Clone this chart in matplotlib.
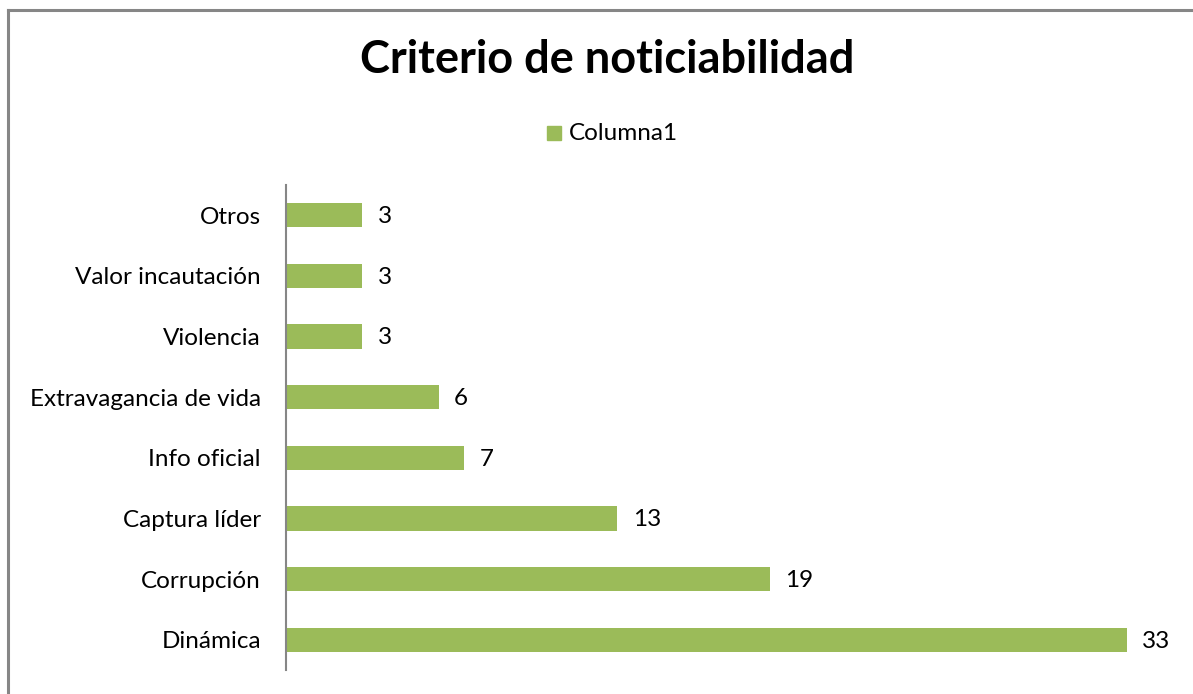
import matplotlib.pyplot as plt
from matplotlib.lines import Line2D

categories = ['Dinámica', 'Corrupción', 'Captura líder', 'Info oficial',
              'Extravagancia de vida', 'Violencia', 'Valor incautación', 'Otros']
values = [33, 19, 13, 7, 6, 3, 3, 3]

bar_color = '#9BBB59'
plt.rcParams['font.family'] = ['Lato', 'DejaVu Sans']

fig = plt.figure(figsize=(11.93, 6.94), dpi=100)
W, H = 1193, 694

# frame of the chart area (top and left edges visible)
fig.add_artist(Line2D([8 / W, 8 / W], [0, 1 - 10 / H], transform=fig.transFigure,
                      color='#868686', lw=2.2))
fig.add_artist(Line2D([8 / W, 1], [1 - 10 / H, 1 - 10 / H], transform=fig.transFigure,
                      color='#868686', lw=2.2))

ax = fig.add_axes([286 / W, 1 - 670 / H, 892 / W, 485 / H])
pos = range(len(categories))
ax.barh(pos, values, height=0.4, color=bar_color)
ax.set_xlim(0, 35)
ax.set_ylim(-0.5, len(categories) - 0.5)
ax.set_yticks(list(pos))
ax.set_yticklabels(categories, fontsize=17.5)
ax.tick_params(axis='y', length=0, pad=18)
ax.set_xticks([])
for s in ['top', 'right', 'bottom']:
    ax.spines[s].set_visible(False)
ax.spines['left'].set_color('#868686')
ax.spines['left'].set_linewidth(1.5)

for p, v in zip(pos, values):
    ax.annotate(str(v), (v, p), xytext=(11, -1), textcoords='offset points',
                va='center', ha='left', fontsize=17.5)

fig.text(607 / W, 1 - 60 / H, 'Criterio de noticiabilidad', ha='center', va='center',
         fontsize=32.5, fontweight='bold')

fig.patches.append(plt.Rectangle((547 / W, 1 - 140 / H), 14 / W, 14 / H,
                                 transform=fig.transFigure, color=bar_color))
fig.text(569 / W, 1 - 133 / H, 'Columna1', ha='left', va='center', fontsize=17.5)

fig.savefig('out.png', dpi=100)
